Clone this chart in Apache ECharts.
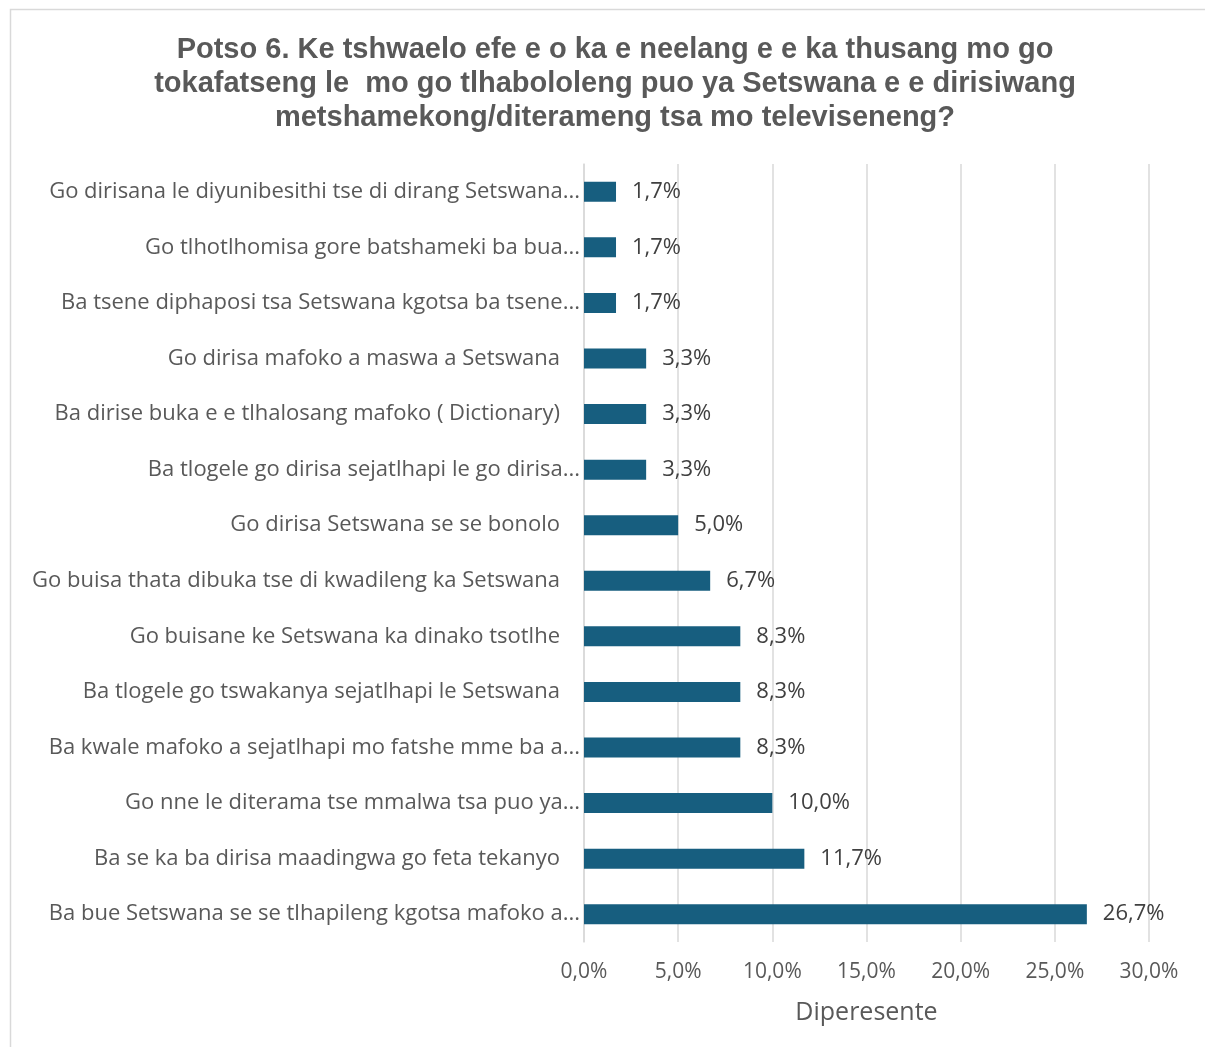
<!DOCTYPE html>
<html><head><meta charset="utf-8">
<script src="https://cdn.jsdelivr.net/npm/echarts@6/dist/echarts.min.js"></script>
<style>html,body{margin:0;padding:0;background:#fff}#c{width:1205px;height:1047px}</style>
</head><body><div id="c"></div>
<script>
const titleText = "Potso 6. Ke tshwaelo efe e o ka e neelang e e ka thusang mo go\ntokafatseng le  mo go tlhabololeng puo ya Setswana e e dirisiwang\nmetshamekong/diterameng tsa mo televiseneng?";
const categories = [
  "Go dirisana le diyunibesithi tse di dirang Setswana...",
  "Go tlhotlhomisa gore batshameki ba bua...",
  "Ba tsene diphaposi tsa Setswana kgotsa ba tsene...",
  "Go dirisa mafoko a maswa a Setswana",
  "Ba dirise buka e e tlhalosang mafoko ( Dictionary)",
  "Ba tlogele go dirisa sejatlhapi le go dirisa...",
  "Go dirisa Setswana se se bonolo",
  "Go buisa thata dibuka tse di kwadileng ka Setswana",
  "Go buisane ke Setswana ka dinako tsotlhe",
  "Ba tlogele go tswakanya sejatlhapi le Setswana",
  "Ba kwale mafoko a sejatlhapi mo fatshe mme ba a...",
  "Go nne le diterama tse mmalwa tsa puo ya...",
  "Ba se ka ba dirisa maadingwa go feta tekanyo",
  "Ba bue Setswana se se tlhapileng kgotsa mafoko a..."
];
const values = [1.7, 1.7, 1.7, 3.3, 3.3, 3.3, 5.0, 6.7, 8.3, 8.3, 8.3, 10.0, 11.7, 26.7];
const axisName = "Diperesente";

const chart = echarts.init(document.getElementById('c'));
const fmt = v => v.toFixed(1).replace('.', ',') + '%';
chart.setOption({
  animation: false,
  title: {
    text: titleText, left: 610, top: 28, textAlign: 'center',
    textStyle: {fontFamily: 'Liberation Sans', fontWeight: 'bold', fontSize: 29, color: '#595959', lineHeight: 34}
  },
  graphic: [{type: 'rect', shape: {x: 10.5, y: 9.5, width: 1300, height: 1200}, style: {fill: 'none', stroke: '#d9d9d9', lineWidth: 1.5}, silent: true, z: -1}],
  grid: {left: 584, right: 56, top: 164, bottom: 105, containLabel: false},
  xAxis: {
    type: 'value', min: 0, max: 30, interval: 5,
    name: axisName, nameLocation: 'middle', nameGap: 58,
    nameTextStyle: {fontFamily: 'Open Sans', fontSize: 25, color: '#595959'},
    axisLine: {show: false}, axisTick: {show: false},
    axisLabel: {formatter: v => fmt(v), fontFamily: 'Open Sans', fontSize: 21, color: '#595959', margin: 20},
    splitLine: {lineStyle: {color: '#d9d9d9', width: 1.5}}
  },
  yAxis: {
    type: 'category', data: categories, inverse: true,
    axisLine: {show: true, lineStyle: {color: '#d9d9d9', width: 1.5}}, axisTick: {show: false},
    axisLabel: {
      margin: 4, fontFamily: 'Open Sans', fontSize: 22, color: '#595959',
      formatter: v => v.endsWith('...') ? '{t|' + v + '}' : '{n|' + v + '}',
      rich: {
        t: {fontFamily: 'Open Sans', fontSize: 22, color: '#595959'},
        n: {fontFamily: 'Open Sans', fontSize: 22, color: '#595959', padding: [0, 20, 0, 0]}
      }
    }
  },
  series: [{
    type: 'bar', data: values, barWidth: 20,
    itemStyle: {color: '#175E7F'},
    label: {show: true, position: 'right', distance: 16, formatter: p => fmt(p.value),
      fontFamily: 'Open Sans', fontSize: 22, color: '#404040'}
  }]
});
</script></body></html>
